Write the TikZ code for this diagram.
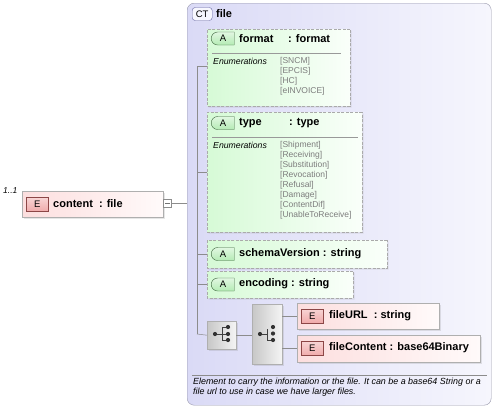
\documentclass[tikz,border=0pt]{standalone}
\usepackage{fontspec}
\setmainfont{Liberation Sans}
\usetikzlibrary{shapes.misc,shadows}
\definecolor{ctfillL}{RGB}{218,218,246}
\definecolor{ctfillR}{RGB}{246,246,253}
\definecolor{ctline}{RGB}{150,150,170}
\definecolor{epinkL}{RGB}{252,222,222}
\definecolor{epinkR}{RGB}{255,250,250}
\definecolor{eborder}{RGB}{175,175,175}
\definecolor{agreenL}{RGB}{214,250,214}
\definecolor{agreenR}{RGB}{250,255,250}
\definecolor{aborder}{RGB}{170,170,170}
\definecolor{badgeE}{RGB}{240,170,170}
\definecolor{badgeEb}{RGB}{140,70,70}
\definecolor{badgeA}{RGB}{180,235,180}
\definecolor{badgeAb}{RGB}{60,100,60}
\definecolor{conn}{RGB}{120,120,130}
\definecolor{enumc}{RGB}{125,125,125}
\begin{document}
\begin{tikzpicture}[x=1pt,y=-1pt,
  lbl/.style={font=\fontsize{11}{13}\selectfont\bfseries, anchor=west, inner sep=0},
  enumv/.style={font=\fontsize{8.5}{9}\selectfont, text=enumc, anchor=west, inner sep=0},
  enumk/.style={font=\fontsize{8.7}{9}\selectfont\itshape, anchor=west, inner sep=0},
  ebox/.style={draw=eborder, left color=epinkL, right color=epinkR, anchor=north west, inner sep=0,
     drop shadow={shadow xshift=1.5pt, shadow yshift=-1.5pt, opacity=0.2}},
  abox/.style={chamfered rectangle, chamfered rectangle corners={north west,south west}, chamfered rectangle xsep=5pt,
     draw=aborder, dash pattern=on 3pt off 1.5pt, left color=agreenL, right color=agreenR, anchor=north west, inner sep=0,
     drop shadow={shadow xshift=1.5pt, shadow yshift=-1.5pt, opacity=0.15}},
  ebadge/.style={draw=badgeEb, top color=badgeE!50, bottom color=badgeE, minimum width=22, minimum height=14, inner sep=0,
     font=\fontsize{9.5}{9.5}\selectfont, anchor=west},
  abadge/.style={rounded rectangle, rounded rectangle right arc=none, draw=badgeAb, top color=badgeA!40, bottom color=badgeA,
     minimum width=23, minimum height=13, inner sep=0, font=\fontsize{9.5}{9.5}\selectfont, anchor=west},
  gbox/.style={draw=eborder, left color=black!22, right color=black!4, anchor=north west, inner sep=0,
     drop shadow={shadow xshift=1.5pt, shadow yshift=-1.5pt, opacity=0.2}},
  hline/.style={draw=black!45, line width=0.5pt},
  dotc/.style={fill=black!80, draw=none},
  icon/.style={draw=black!75, line width=0.8pt}
]
\useasboundingbox (0,0) rectangle (495,408);

% complex type container
\node[draw=ctline, rounded corners=7pt, left color=ctfillL, right color=ctfillR, anchor=north west,
      minimum width=304, minimum height=402, inner sep=0] (ct) at (187,3) {};
\node[draw=black!60!blue!60, rounded corners=3pt, fill=ctfillL!80!blue!10, minimum width=20, minimum height=13, inner sep=0,
      font=\fontsize{9.5}{9.5}\selectfont, anchor=west] (ctb) at (192,14) {CT};
\node[lbl] (ctname) at (216,13.5) {file};

% content element
\node[font=\fontsize{8.5}{9}\selectfont\itshape, anchor=west, inner sep=0] (card) at (3,191) {1..1};
\node[ebox, minimum width=141, minimum height=26] (content) at (22,191) {};
\node[ebadge] (contentE) at (26,204.5) {E};
\node[lbl] (contentname) at (53,204) {content\ \ : file};
\node[draw=black!45, fill=white, minimum width=8, minimum height=8, inner sep=0] (minus) at (167.5,203.5) {};
\draw[black!55, line width=0.5pt] ([xshift=-2.2]minus.center) -- ([xshift=2.2]minus.center);
\draw[hline] (minus.east) -- (minus.east -| ct.west);

% attribute: format
\node[abox, minimum width=143, minimum height=77] (fmt) at (207,29) {};
\node[abadge] (fmtA) at (211,38.5) {A};
\node[lbl] (fmtn) at (239,38.5) {format};
\node[lbl] (fmtt) at (288,38.5) {: format};
\draw[black!40, line width=0.5pt] (212,53) -- (341,53);
\node[enumk] (fmtk) at (213,61) {Enumerations};
\node[enumv] (f1) at (280,61) {[SNCM]};
\node[enumv] (f2) at (280,71) {[EPCIS]};
\node[enumv] (f3) at (280,81) {[HC]};
\node[enumv] (f4) at (280,91) {[eINVOICE]};

% attribute: type
\node[abox, minimum width=155, minimum height=120] (typ) at (207,112) {};
\node[abadge] (typA) at (211,123) {A};
\node[lbl] (typn) at (239,123) {type};
\node[lbl] (typt) at (289,123) {: type};
\draw[black!40, line width=0.5pt] (212,137) -- (358,137);
\node[enumk] (typk) at (213,145) {Enumerations};
\node[enumv] (t1) at (280,145) {[Shipment]};
\node[enumv] (t2) at (280,155) {[Receiving]};
\node[enumv] (t3) at (280,165) {[Substitution]};
\node[enumv] (t4) at (280,175) {[Revocation]};
\node[enumv] (t5) at (280,185) {[Refusal]};
\node[enumv] (t6) at (280,195) {[Damage]};
\node[enumv] (t7) at (280,205) {[ContentDif]};
\node[enumv] (t8) at (280,215) {[UnableToReceive]};

% attribute: schemaVersion
\node[abox, minimum width=180, minimum height=28] (sv) at (207,240) {};
\node[abadge] (svA) at (211,254) {A};
\node[lbl] (svn) at (239,253.5) {schemaVersion : string};

% attribute: encoding
\node[abox, minimum width=146, minimum height=27] (enc) at (207,271) {};
\node[abadge] (encA) at (211,284.5) {A};
\node[lbl] (encn) at (239,284) {encoding : string};

% sequence
\node[gbox, minimum width=29, minimum height=28] (seq) at (207,321) {};
\draw[icon] (215,334) -- (222,334) (222,327) -- (222,340) (222,327) -- (228,327) (222,340) -- (228,340) (222,334) -- (228,334);
\fill[dotc] (215,334) circle (2.1);
\fill[dotc] (228,327) circle (2.1) (228,334) circle (2.1) (228,340) circle (2.1);

% choice
\node[gbox, minimum width=30, minimum height=60] (cho) at (252,304) {};
\draw[icon] (260,334) -- (267,334) (267,329) -- (267,340) -- (273,340);
\fill[dotc] (260,334) circle (2.1);
\fill[dotc] (273,327) circle (2.1) (273,333.5) circle (2.1) (273,340) circle (2.1);

% elements in choice
\node[ebox, minimum width=142, minimum height=26] (url) at (297,303) {};
\node[ebadge] (urlE) at (301,316) {E};
\node[lbl] (urln) at (329,315.5) {fileURL\ \ : string};
\node[ebox, minimum width=183, minimum height=27] (fc) at (297,335) {};
\node[ebadge] (fcE) at (301,348.5) {E};
\node[lbl] (fcn) at (329,348) {fileContent : base64Binary};

% connectors
\coordinate (vtop) at (197,66);
\coordinate (vbot) at (197,334);
\draw[hline] (vtop) -- (vbot);
\draw[hline] (vtop) -- (vtop -| fmt.west);
\draw[hline] (197,172) -- (197,172 -| typ.west);
\draw[hline] (197,254) -- (197,254 -| sv.west);
\draw[hline] (197,284) -- (197,284 -| enc.west);
\draw[hline] (vbot) -- (seq.west);
\draw[hline] (seq.east) -- (seq.east -| cho.west);
\draw[hline] (url.west -| cho.east) -- (url.west);
\draw[hline] (fc.west -| cho.east) -- (fc.west);

% annotation
\draw[black!45, line width=0.5pt] (192,375) -- (487,375);
\node[font=\fontsize{8.9}{10.8}\selectfont\itshape, anchor=north west, inner sep=0, align=left] (ann) at (193,377.5)
  {Element to carry the information or the file. It can be a base64 String or a\\file url to use in case we have larger files.};
\end{tikzpicture}
\end{document}
